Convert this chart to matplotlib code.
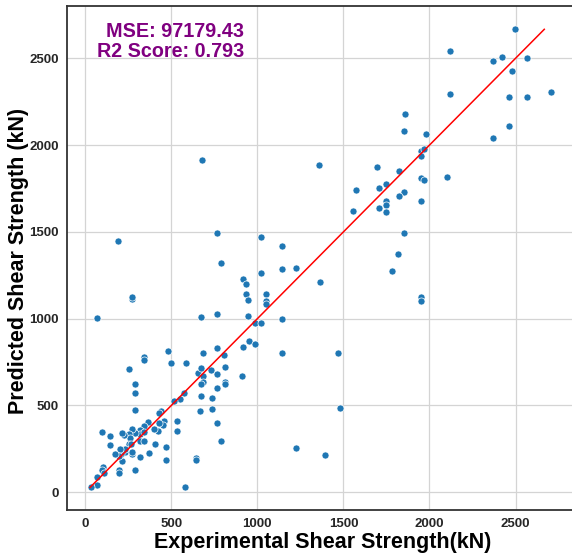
import matplotlib
matplotlib.use('Agg')
import matplotlib.pyplot as plt

plt.rcParams['font.family'] = ['Liberation Sans', 'DejaVu Sans']

# valores (kN)
experimental = [
    2495, 2121, 2367, 2423, 2565, 2482, 2121, 2462, 2565, 2708,
    2462, 2367, 1856, 1852, 1978, 1361, 1697, 1951, 1970, 1951,
    1825, 1571, 1747, 1706, 1951, 1970, 2100, 1852, 1825, 1747,
    1747, 1706, 1747, 1555, 1951, 1852, 1815, 1784, 1951, 1951,
    1363, 1466, 1480, 1392,
    677, 193, 768, 1022, 1146, 788, 1146, 1222, 1022, 914,
    933, 933, 947, 1053, 1053, 1053, 272, 272,
    71, 671, 768, 947, 985, 1020, 1144, 1144, 483, 497,
    583, 687, 344, 344, 253, 290, 290, 290, 768, 914,
    949, 985, 805, 811, 811, 811, 730, 768, 658, 671,
    687, 685, 670, 767, 908, 736, 670, 666, 737, 768,
    788, 645, 646, 580, 1224, 573, 551, 514, 534, 534,
    472, 472, 458, 452, 439, 428, 428, 424, 402, 404,
    367, 344, 319, 319, 319, 344, 369, 319, 288, 343,
    290, 274, 255, 262, 253, 264, 228, 214, 233, 231,
    272, 272, 214, 207, 200, 196, 174, 145, 145, 98,
    195, 195, 104, 98, 109, 71, 71, 32,
]
predicted = [
    2667, 2544, 2483, 2509, 2502, 2429, 2296, 2275, 2275, 2304,
    2112, 2039, 2177, 2081, 2066, 1887, 1876, 1968, 1979, 1939,
    1849, 1739, 1774, 1755, 1809, 1799, 1814, 1732, 1705, 1676,
    1657, 1638, 1617, 1618, 1680, 1492, 1373, 1275, 1123, 1100,
    1210, 800, 487, 215,
    1912, 1446, 1491, 1473, 1421, 1323, 1284, 1290, 1265, 1228,
    1202, 1142, 1107, 1142, 1104, 1082, 1112, 1124,
    1006, 1007, 1029, 1018, 973, 975, 1000, 800, 812, 743,
    745, 800, 779, 764, 710, 622, 570, 472, 834, 836,
    874, 852, 791, 722, 637, 626, 703, 681, 687, 714,
    668, 637, 622, 600, 668, 541, 553, 468, 481, 401,
    295, 196, 184, 28, 253, 570, 537, 524, 409, 353,
    259, 188, 410, 387, 466, 455, 401, 353, 363, 278,
    405, 384, 361, 336, 293, 293, 226, 201, 130, 345,
    344, 366, 334, 314, 278, 278, 330, 340, 234, 247,
    220, 234, 182, 220, 247, 211, 219, 326, 272, 347,
    130, 113, 144, 130, 113, 86, 42, 32,
]
mse = 97179.43
r2 = 0.793

fig = plt.figure(figsize=(5.72, 5.55), dpi=100)
ax = fig.add_axes([0.1177, 0.0811, 0.8865, 0.908])

ax.grid(True, color='#d4d4d4', linewidth=0.9, zorder=0)
ax.set_axisbelow(True)

ax.scatter(experimental, predicted, s=26, color='#1f77b4',
           edgecolors='white', linewidths=0.5, zorder=3)

lo = min(predicted)
hi = max(predicted)
ax.plot([lo, hi], [lo, hi], color='red', linewidth=1.1, zorder=4)

ax.set_xlim(-104, 2842)
ax.set_ylim(-102, 2801)
ax.set_xticks([0, 500, 1000, 1500, 2000, 2500])
ax.set_yticks([0, 500, 1000, 1500, 2000, 2500])

for lado in ['left', 'bottom', 'top']:
    ax.spines[lado].set_color('#333333')
    ax.spines[lado].set_linewidth(1.3)
ax.spines['right'].set_visible(False)

ax.tick_params(length=0, pad=6, labelsize=9.5, labelcolor='#262626')
for lbl in ax.get_xticklabels() + ax.get_yticklabels():
    lbl.set_fontweight('bold')

ax.set_xlabel('Experimental Shear Strength(kN)', fontsize=15.5,
              fontweight='bold', va='top')
ax.set_ylabel('Predicted Shear Strength (kN)', fontsize=15.5,
              fontweight='bold')
ax.xaxis.set_label_coords(0.504, -0.043)
ax.yaxis.set_label_coords(-0.076, 0.494)

ax.text(0.349, 0.968, 'MSE: {:.2f}\nR2 Score: {}'.format(mse, r2),
        transform=ax.transAxes, ha='right', va='top', multialignment='right',
        fontsize=14.2, fontweight='bold', color='purple', linespacing=1.05)

fig.savefig('out.png', dpi=100)
